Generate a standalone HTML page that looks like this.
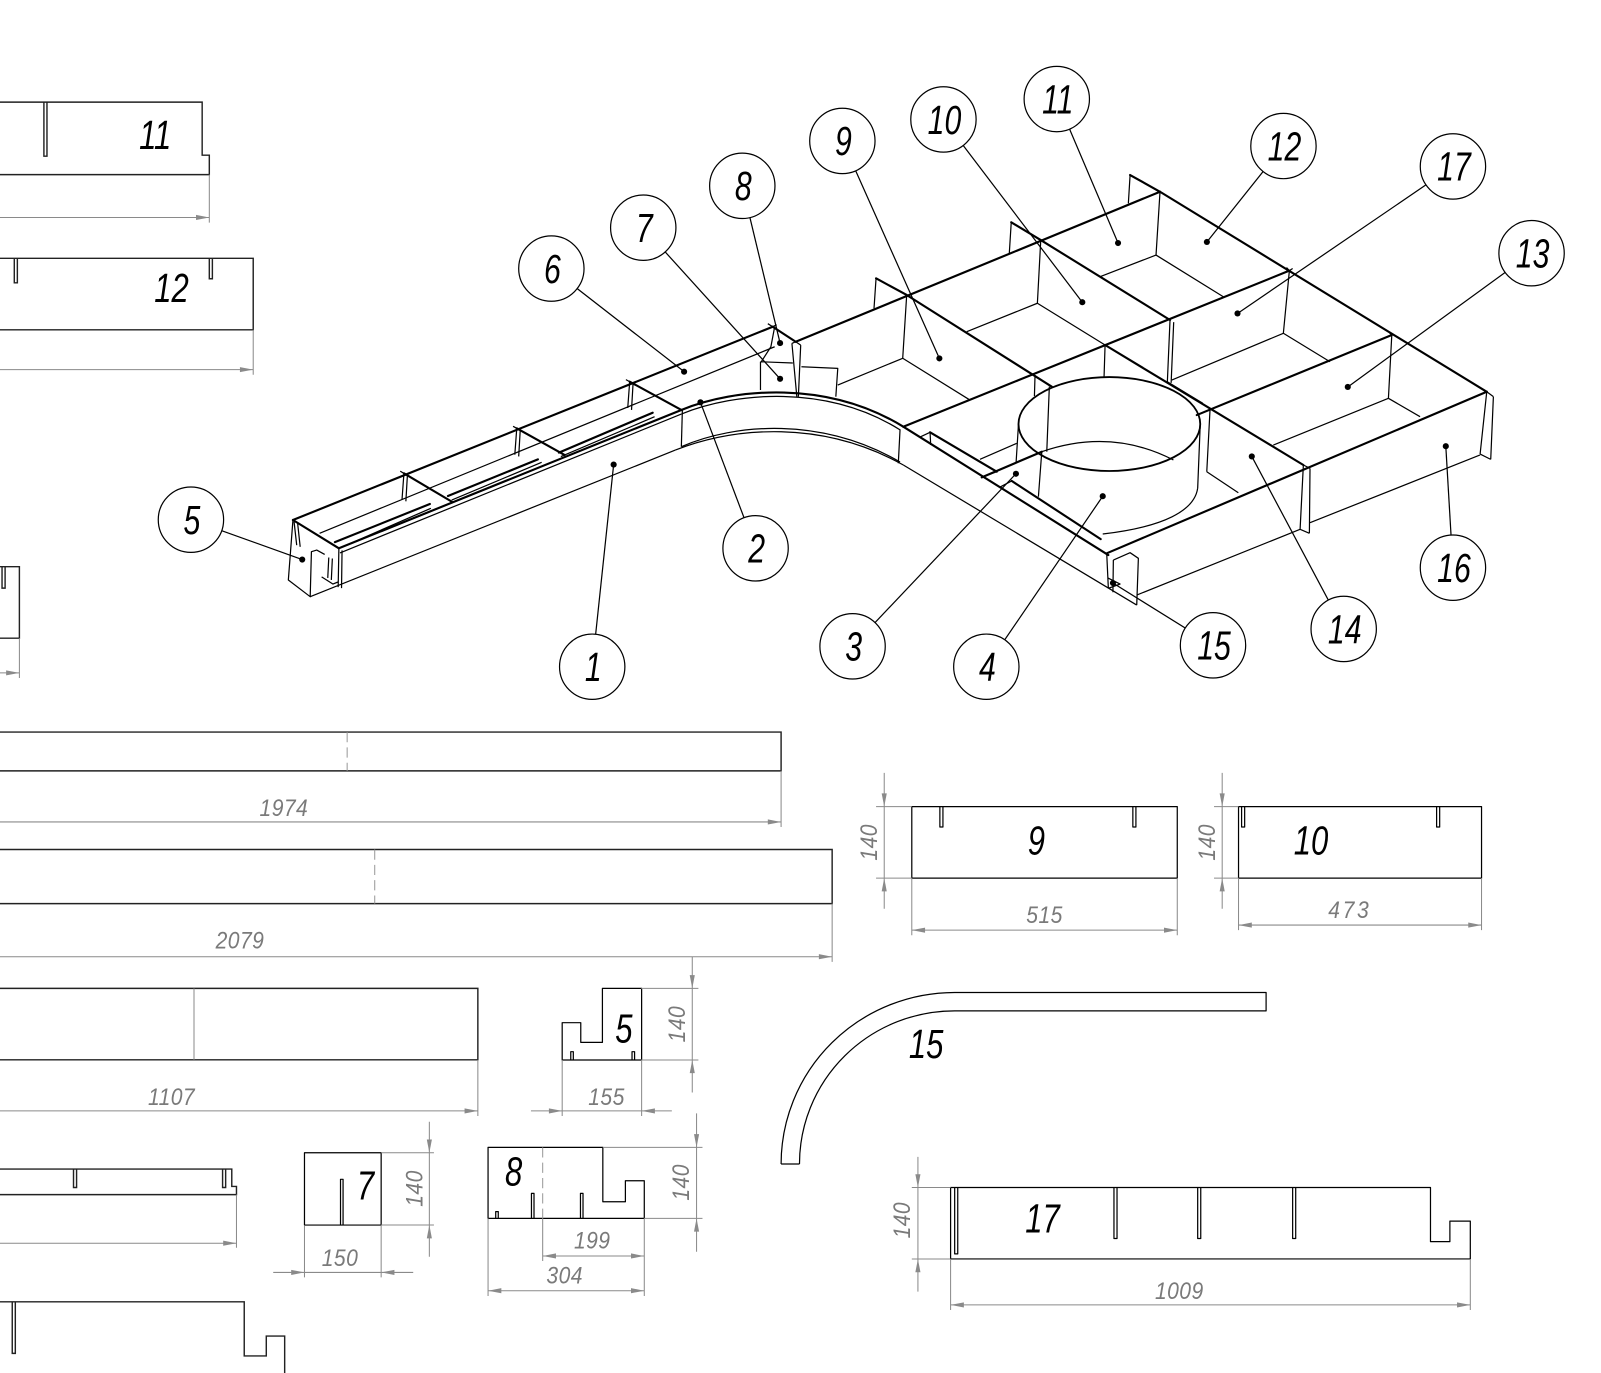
<!DOCTYPE html>
<html><head><meta charset="utf-8"><style>
html,body{margin:0;padding:0;background:#fff}
svg{display:block}
.o{stroke:#000;stroke-width:1.2;fill:none;stroke-linejoin:round}
.t{stroke:#000;stroke-width:2.1;fill:none;stroke-linecap:round}
.f{stroke:#222;stroke-width:1.4;fill:none}
.d{stroke:#8a8a8a;stroke-width:1;fill:none}
.dash{stroke:#999;stroke-width:1;fill:none;stroke-dasharray:10 5}
.a{fill:#8a8a8a}
.dim{font-family:"Liberation Sans",sans-serif;font-style:italic;font-size:24px;fill:#7a7a7a;letter-spacing:0.5px}
.lb{font-family:"Liberation Sans",sans-serif;font-style:italic;font-size:40px;fill:#000}
.bt{font-family:"Liberation Sans",sans-serif;font-style:italic;font-size:40px;fill:#000}
.bub{fill:#fff;stroke:#000;stroke-width:1.2}
</style></head><body>
<svg width="1601" height="1373" viewBox="0 0 1568 1344.7" preserveAspectRatio="none" xmlns="http://www.w3.org/2000/svg">

<!-- ============ FLAT VIEWS LEFT ============ -->
<path class="f" d="M0,100 H198 V152 H205 V171 H0"/>
<path class="f" d="M43,100 V153 H46 V100"/>
<text class="lb" text-anchor="middle" transform="translate(152,146) scale(0.76,1)">11</text>
<path class="d" d="M0,213 H205 M205,171 V218"/>
<polygon class="a" points="205,213 192,210.5 192,215.5"/>

<path class="f" d="M0,253 H248 V323 H0"/>
<path class="f" d="M14,253 V277 H17 V253 M205,253 V273 H208 V253"/>
<text class="lb" text-anchor="middle" transform="translate(168,296) scale(0.76,1)">12</text>
<path class="d" d="M0,362 H248 M248,323 V367"/>
<polygon class="a" points="248,362 235,359.5 235,364.5"/>

<path class="f" d="M0,555 H19 V625 H0"/>
<path class="f" d="M2,555 V576 H5 V555"/>
<path class="d" d="M0,659 H19 M19,625 V664"/>
<polygon class="a" points="19,659 6,656.5 6,661.5"/>

<path class="f" d="M0,717 H765 V755 H0"/>
<path class="dash" d="M340,717 V755"/>
<path class="d" d="M0,805 H765 M765,755 V810"/>
<polygon class="a" points="765,805 752,802.5 752,807.5"/>
<text class="dim" text-anchor="middle" transform="translate(278,799) scale(0.86,1)">1974</text>

<path class="f" d="M0,832 H815 V885 H0"/>
<path class="dash" d="M367,832 V885"/>
<path class="d" d="M0,937 H815 M815,885 V942"/>
<polygon class="a" points="815,937 802,934.5 802,939.5"/>
<text class="dim" text-anchor="middle" transform="translate(235,929) scale(0.86,1)">2079</text>

<path class="f" d="M0,968 H468 V1038 H0"/>
<path class="d" d="M190,968 V1038"/>
<path class="d" d="M0,1088 H468 M468,1038 V1093"/>
<polygon class="a" points="468,1088 455,1085.5 455,1090.5"/>
<text class="dim" text-anchor="middle" transform="translate(168,1082) scale(0.86,1)">1107</text>

<!-- part 5 flat -->
<path class="o" d="M550.6,1001.6 H568.8 V1020.9 H590 V968 H628.4 V1038.2 H550.6 Z"/>
<path class="o" d="M559,1038 V1030 H561.5 V1038 M619,1038 V1030 H621.5 V1038"/>
<text class="lb" text-anchor="middle" transform="translate(611,1021) scale(0.76,1)">5</text>
<path class="d" d="M678,937 V1070 M628,968 H684 M628,1038.2 H684"/>
<polygon class="a" points="678,968 675.5,955 680.5,955"/>
<polygon class="a" points="678,1038.2 675.5,1051 680.5,1051"/>
<text class="dim" text-anchor="middle" transform="translate(671,1003) rotate(-90) scale(0.86,1)">140</text>
<path class="d" d="M520,1088 H658 M550.6,1038 V1093 M628.4,1038 V1093"/>
<polygon class="a" points="550.6,1088 537.6,1085.5 537.6,1090.5"/>
<polygon class="a" points="628.4,1088 641.4,1085.5 641.4,1090.5"/>
<text class="dim" text-anchor="middle" transform="translate(594,1082) scale(0.86,1)">155</text>

<!-- part 1150s -->
<path class="f" d="M0,1145 H227 V1162 H231.6 V1170 H0"/>
<path class="f" d="M72,1145 V1163 H75 V1145 M218,1145 V1163 H221 V1145"/>
<path class="d" d="M0,1217.6 H231.6 M231.6,1170 V1222"/>
<polygon class="a" points="231.6,1217.6 218.6,1215.1 218.6,1220.1"/>

<path class="f" d="M0,1275 H239.2 V1328 H260.8 V1308.5 H278.8 V1345"/>
<path class="f" d="M12,1275 V1325.5 H15 V1275"/>

<!-- part 7 flat -->
<path class="o" d="M298.2,1129 H373.3 V1199.8 H298.2 Z"/>
<path class="o" d="M333.5,1199.8 V1155 H336 V1199.8"/>
<text class="lb" text-anchor="middle" transform="translate(358,1175) scale(0.76,1)">7</text>
<path class="d" d="M420.5,1098.6 V1230.8 M373.3,1129 H425 M373.3,1199.8 H425"/>
<polygon class="a" points="420.5,1129 418,1116 423,1116"/>
<polygon class="a" points="420.5,1199.8 418,1212.8 423,1212.8"/>
<text class="dim" text-anchor="middle" transform="translate(414,1164) rotate(-90) scale(0.86,1)">140</text>
<path class="d" d="M267.6,1246.2 H404.7 M298.2,1200 V1251 M373.3,1200 V1251"/>
<polygon class="a" points="298.2,1246.2 285.2,1243.7 285.2,1248.7"/>
<polygon class="a" points="373.3,1246.2 386.3,1243.7 386.3,1248.7"/>
<text class="dim" text-anchor="middle" transform="translate(333,1240) scale(0.86,1)">150</text>

<!-- part 8 flat -->
<path class="o" d="M478,1123.7 H590.4 V1177 H612.5 V1156.4 H631 V1193.3 H478 Z"/>
<path class="dash" d="M531.5,1123.7 V1193.3"/>
<path class="o" d="M485.5,1193.3 V1186.7 H488 V1193.3 M520.5,1193.3 V1168.8 H523 V1193.3 M568.5,1193.3 V1168.8 H571 V1193.3"/>
<text class="lb" text-anchor="middle" transform="translate(503,1161) scale(0.76,1)">8</text>
<path class="d" d="M682.2,1090.4 V1226 M590.4,1123.7 H688 M631,1193.3 H688"/>
<polygon class="a" points="682.2,1123.7 679.7,1110.7 684.7,1110.7"/>
<polygon class="a" points="682.2,1193.3 679.7,1206.3 684.7,1206.3"/>
<text class="dim" text-anchor="middle" transform="translate(675,1158) rotate(-90) scale(0.86,1)">140</text>
<path class="d" d="M531.5,1230.1 H631 M478,1264.1 H631 M478,1193.3 V1269.3 M531.5,1193.3 V1235 M631,1193.3 V1269.3"/>
<polygon class="a" points="531.5,1230.1 544.5,1227.6 544.5,1232.6"/>
<polygon class="a" points="631,1230.1 618,1227.6 618,1232.6"/>
<polygon class="a" points="478,1264.1 491,1261.6 491,1266.6"/>
<polygon class="a" points="631,1264.1 618,1261.6 618,1266.6"/>
<text class="dim" text-anchor="middle" transform="translate(580,1223) scale(0.86,1)">199</text>
<text class="dim" text-anchor="middle" transform="translate(553,1257) scale(0.86,1)">304</text>

<!-- ============ FLAT VIEWS RIGHT ============ -->
<path class="o" d="M893,790 H1153 V860 H893 Z"/>
<path class="o" d="M920.5,790 V810 H923.5 V790 M1109.5,790 V810 H1112.5 V790"/>
<text class="lb" text-anchor="middle" transform="translate(1015,837) scale(0.76,1)">9</text>
<path class="d" d="M866,757 V890 M858,790 H893 M858,860 H893"/>
<polygon class="a" points="866,790 863.5,777 868.5,777"/>
<polygon class="a" points="866,860 863.5,873 868.5,873"/>
<text class="dim" text-anchor="middle" transform="translate(859,825) rotate(-90) scale(0.86,1)">140</text>
<path class="d" d="M893,911 H1153 M893,860 V916 M1153,860 V916"/>
<polygon class="a" points="893,911 906,908.5 906,913.5"/>
<polygon class="a" points="1153,911 1140,908.5 1140,913.5"/>
<text class="dim" text-anchor="middle" transform="translate(1023,904) scale(0.86,1)">515</text>

<path class="o" d="M1213,790 H1451 V860 H1213 Z"/>
<path class="o" d="M1216,790 V810 H1219 V790 M1407,790 V810 H1410 V790"/>
<text class="lb" text-anchor="middle" transform="translate(1284,837) scale(0.76,1)">10</text>
<path class="d" d="M1197,757 V890 M1189,790 H1213 M1189,860 H1213"/>
<polygon class="a" points="1197,790 1194.5,777 1199.5,777"/>
<polygon class="a" points="1197,860 1194.5,873 1199.5,873"/>
<text class="dim" text-anchor="middle" transform="translate(1190,825) rotate(-90) scale(0.86,1)">140</text>
<path class="d" d="M1213,906 H1451 M1213,860 V911 M1451,860 V911"/>
<polygon class="a" points="1213,906 1226,903.5 1226,908.5"/>
<polygon class="a" points="1451,906 1438,903.5 1438,908.5"/>
<text class="dim" text-anchor="middle" transform="translate(1322,899) scale(0.86,1)" style="letter-spacing:3px">473</text>

<path class="o" d="M935,972 H1240 V990 H935 M765,1140 A170,168 0 0 1 935,972 M783,1140 A152,150 0 0 1 935,990 M765,1140 H783"/>
<text class="lb" text-anchor="middle" transform="translate(907,1036) scale(0.76,1)">15</text>

<path class="o" d="M931,1163 H1401 V1216 H1420 V1196 H1440 V1233 H931 Z"/>
<path class="o" d="M935,1163 V1228 H938 V1163 M1091,1163 V1213 H1094 V1163 M1173,1163 V1213 H1176 V1163 M1266,1163 V1213 H1269 V1163"/>
<text class="lb" text-anchor="middle" transform="translate(1021,1207) scale(0.76,1)">17</text>
<path class="d" d="M899,1133 V1265 M893,1163 H931 M893,1233 H931"/>
<polygon class="a" points="899,1163 896.5,1150 901.5,1150"/>
<polygon class="a" points="899,1233 896.5,1246 901.5,1246"/>
<text class="dim" text-anchor="middle" transform="translate(891,1195) rotate(-90) scale(0.86,1)">140</text>
<path class="d" d="M931,1278 H1440 M931,1233 V1283 M1440,1233 V1283"/>
<polygon class="a" points="931,1278 944,1275.5 944,1280.5"/>
<polygon class="a" points="1440,1278 1427,1275.5 1427,1280.5"/>
<text class="dim" text-anchor="middle" transform="translate(1155,1272) scale(0.86,1)">1009</text>

<!-- ============ ISOMETRIC ============ -->
<path class="t" d="M286.9,509.3 L756.8,320"/>
<path class="t" d="M286.9,509.3 L331.9,537"/>
<path class="t" d="M331.9,537 L667.3,401.5"/>
<path class="o" d="M333,541.5 L667.3,405.5"/>
<path class="o" d="M313,522.3 L758.7,339.6"/>
<path class="t" d="M395.6,463.6 L442.4,491.3 M506.1,419.5 L552.9,445.6 M616.7,373.8 L667.3,401.5"/>
<path class="o" d="M395.6,463.6 L393.7,489.7 M399,465.5 L397.5,491 M506.1,419.5 L504.2,445.3 M509.5,421.5 L508,447 M616.7,373.8 L614.8,399.6 M620,375.8 L618.5,401.5"/>
<path class="o" d="M392,461.5 L395.6,463.6 M502.5,417.5 L506.1,419.5 M613,371.8 L616.7,373.8"/>
<path class="t" d="M328,531 L421,493.6 M438.7,485.8 L526.8,449.9 M547.4,443.3 L639.2,404.2"/>
<path class="o" d="M336,535.4 L422,497.8 M442.4,489.7 L530.5,452.8 M549.3,447.2 L641.1,408.1"/>
<path class="o" d="M303.8,584.4 L661.7,440.7"/>
<path class="o" d="M286.9,509.3 L282.4,568 L303.8,584.4 L305,540.3 L310.2,538.7 L318,543"/>
<path class="o" d="M288,511 L290.6,534 M291.5,512.5 L294,535.5"/>
<path class="o" d="M322,546 L321,566 M325.5,547 L324.5,568"/>
<path class="o" d="M315,565 L326,572 L331,570"/>
<path class="o" d="M331.9,537 L331.2,575 M335,539 L334.5,576"/>
<path class="t" d="M756.8,320 L779.3,334.7"/>
<path class="o" d="M752,317 L756.8,320 L760.6,318 M758.7,320 L755,339.6 L745.6,354.3"/>
<path class="o" d="M775.6,336.3 L780.4,388.5 M784.2,338 L781.9,388.5 M775.6,336.3 L779.3,334.7 L784.2,338"/>
<path class="o" d="M744.8,354.3 L744.8,382 M744.8,354.3 L776.5,355.5 M784.9,359.2 L820.5,360.8 L818.6,388.5"/>
<path class="t" d="M667.3,401.5 C720,380 810,372 884.7,417.9"/>
<path class="o" d="M667.3,405.5 C720,384 810,376 881.5,421"/>
<path class="o" d="M661.7,440.7 C720,418 805,411 884.7,455.4"/>
<path class="o" d="M667.3,437.5 C720,414.5 805,408 881.5,452.5"/>
<path class="o" d="M668.3,401.5 L667.3,437.5"/>

<path class="t" d="M779.3,334.7 L1136.1,187.8"/>
<path class="t" d="M1136.1,187.8 L1456.1,383.7"/>
<path class="t" d="M884.7,417.9 L1262.8,265.1"/>
<path class="t" d="M1172.1,406.5 L1363.1,328.1"/>
<path class="t" d="M1083.9,541.9 L1456.1,383.7"/>
<path class="t" d="M888,288.9 L1030.1,378.7"/>
<path class="t" d="M1019.3,235.1 L1145.9,313.4"/>
<path class="t" d="M1082.3,337.9 L1276.5,455.4"/>
<path class="t" d="M884.7,417.9 L1085.5,543.6"/>
<path class="o" d="M858,272.6 L856,302 M990.4,217.7 L988.5,248.1 M1106.8,171.4 L1105.1,199.1"/>
<path class="t" d="M858,272.6 L888,288.9 M990.4,217.7 L1019.3,235.1 M1106.8,171.4 L1136.1,187.8"/>
<path class="o" d="M888,288.9 L884.1,350.9 M1019.3,235.1 L1016,297 M1136.1,187.8 L1132.2,249.8 M1013.7,367.3 L1013.1,388
M1145.9,313.4 L1143.3,373.9 M1149.5,315.5 L1147,375 M1262.8,265.1 L1256.9,326.4 M1082.3,337.9 L1081.3,369
M1363.1,328.1 L1359.8,390.1 M1185.1,400.9 L1181.9,462 M1276.5,455.4 L1273.3,518.4 M1283,458.7 L1282.4,522.3 M1273.3,518.4 L1282.4,522.3 M1276.5,455.4 L1283,458.7
M1456.1,383.7 L1449.6,444.7 M1462.6,388.5 L1460,449.9 M1449.6,444.7 L1460,449.9 M1456.1,383.7 L1462.6,388.5
M1260,262 L1262.8,265.1 L1266,263 M1360,325 L1363.1,328.1 M1452,381 L1456.1,383.7"/>
<path class="o" d="M1449.6,445.6 L1283,511.9 M1273.3,518.4 L1113.3,582.8"/>
<path class="o" d="M884.1,350.9 L820.5,377.1 M884.1,350.9 L950,391.8 M1016,297 L946.8,324.9 M1016,297 L1082.3,337.9
M1132.2,249.8 L1077.4,271 M1132.2,249.8 L1198.1,290.6 M1256.9,326.4 L1147.6,372.2 M1256.9,326.4 L1302.6,354.3
M1359.8,390.1 L1247.1,435.9 M1359.8,390.1 L1390.8,408.1 M1181.9,462 L1212.8,482.6 M1143.3,373.9 L1178,395"/>
<path class="t" d="M910.9,423.4 L976.2,462 M990.8,471 L1078,528"/>
<path class="t" d="M961.5,467.5 L1020.3,442.4"/>
<path class="o" d="M976.2,462 L961.5,467.5 M979.4,477 L990.8,471 M959.8,449.9 L995.8,434.2 M901,428 L910.9,423.4 L911.5,435.8 M881.5,420.5 L879.8,453.7"/>
<path class="o" d="M884.7,455.4 L1113.3,592.6"/>
<path class="o" d="M1083.9,541.9 L1085.5,576.2 M1090.4,548.5 L1106.8,541.3 L1114.9,546.8 L1113.3,592.6 M1090.4,548.5 L1090,580 M1085,566 L1097,572 L1086,576"/>
<ellipse cx="1086.5" cy="415.3" rx="89" ry="46" fill="none" stroke="#000" stroke-width="1.8"/>
<path class="o" d="M997.5,415.3 L995.1,453.7 M1175.5,415.3 L1173,478 M1173,478 C1170,500 1140,516 1080,523"/>
<path class="o" d="M1020.3,442.4 Q1088,419 1149.2,450.5"/>
<path class="o" d="M1027.7,378.7 L1025.2,442.4 M1020.3,442.4 L1017,486.5"/>

<!-- leaders -->
<g class="o">
<path d="M580,653 L601,455"/>
<path d="M740,537 L686,394"/>
<path d="M835,633 L995,464"/>
<path d="M966,653 L1080,486"/>
<path d="M187,509 L296,548"/>
<path d="M540,263 L670,364"/>
<path d="M630,223 L764,371"/>
<path d="M727,182 L764,336"/>
<path d="M825,138 L920,351"/>
<path d="M924,117 L1060,296"/>
<path d="M1035,97 L1095,238"/>
<path d="M1257,143 L1182,237"/>
<path d="M1423,163 L1212,307"/>
<path d="M1500,248 L1320,379"/>
<path d="M1316,616 L1226,447"/>
<path d="M1188,632 L1090,571"/>
<path d="M1423,556 L1416,437"/>
</g>
<g fill="#000">
<circle cx="601" cy="455" r="3"/><circle cx="686" cy="394" r="3"/><circle cx="995" cy="464" r="3"/>
<circle cx="1080" cy="486" r="3"/><circle cx="296" cy="548" r="3"/><circle cx="670" cy="364" r="3"/>
<circle cx="764" cy="371" r="3"/><circle cx="764" cy="336" r="3"/><circle cx="920" cy="351" r="3"/>
<circle cx="1060" cy="296" r="3"/><circle cx="1095" cy="238" r="3"/><circle cx="1182" cy="237" r="3"/>
<circle cx="1212" cy="307" r="3"/><circle cx="1320" cy="379" r="3"/><circle cx="1226" cy="447" r="3"/>
<circle cx="1090" cy="571" r="3"/><circle cx="1416" cy="437" r="3"/>
</g>
<g>
<circle class="bub" cx="580" cy="653" r="32"/><text class="bt" text-anchor="middle" transform="translate(581,667) scale(0.74,1)">1</text>
<circle class="bub" cx="740" cy="537" r="32"/><text class="bt" text-anchor="middle" transform="translate(741,551) scale(0.74,1)">2</text>
<circle class="bub" cx="835" cy="633" r="32"/><text class="bt" text-anchor="middle" transform="translate(836,647) scale(0.74,1)">3</text>
<circle class="bub" cx="966" cy="653" r="32"/><text class="bt" text-anchor="middle" transform="translate(967,667) scale(0.74,1)">4</text>
<circle class="bub" cx="187" cy="509" r="32"/><text class="bt" text-anchor="middle" transform="translate(188,523) scale(0.74,1)">5</text>
<circle class="bub" cx="540" cy="263" r="32"/><text class="bt" text-anchor="middle" transform="translate(541,277) scale(0.74,1)">6</text>
<circle class="bub" cx="630" cy="223" r="32"/><text class="bt" text-anchor="middle" transform="translate(631,237) scale(0.74,1)">7</text>
<circle class="bub" cx="727" cy="182" r="32"/><text class="bt" text-anchor="middle" transform="translate(728,196) scale(0.74,1)">8</text>
<circle class="bub" cx="825" cy="138" r="32"/><text class="bt" text-anchor="middle" transform="translate(826,152) scale(0.74,1)">9</text>
<circle class="bub" cx="924" cy="117" r="32"/><text class="bt" text-anchor="middle" transform="translate(925,131) scale(0.74,1)">10</text>
<circle class="bub" cx="1035" cy="97" r="32"/><text class="bt" text-anchor="middle" transform="translate(1036,111) scale(0.74,1)">11</text>
<circle class="bub" cx="1257" cy="143" r="32"/><text class="bt" text-anchor="middle" transform="translate(1258,157) scale(0.74,1)">12</text>
<circle class="bub" cx="1423" cy="163" r="32"/><text class="bt" text-anchor="middle" transform="translate(1424,177) scale(0.74,1)">17</text>
<circle class="bub" cx="1500" cy="248" r="32"/><text class="bt" text-anchor="middle" transform="translate(1501,262) scale(0.74,1)">13</text>
<circle class="bub" cx="1316" cy="616" r="32"/><text class="bt" text-anchor="middle" transform="translate(1317,630) scale(0.74,1)">14</text>
<circle class="bub" cx="1188" cy="632" r="32"/><text class="bt" text-anchor="middle" transform="translate(1189,646) scale(0.74,1)">15</text>
<circle class="bub" cx="1423" cy="556" r="32"/><text class="bt" text-anchor="middle" transform="translate(1424,570) scale(0.74,1)">16</text>
</g>
</svg>
</body></html>
